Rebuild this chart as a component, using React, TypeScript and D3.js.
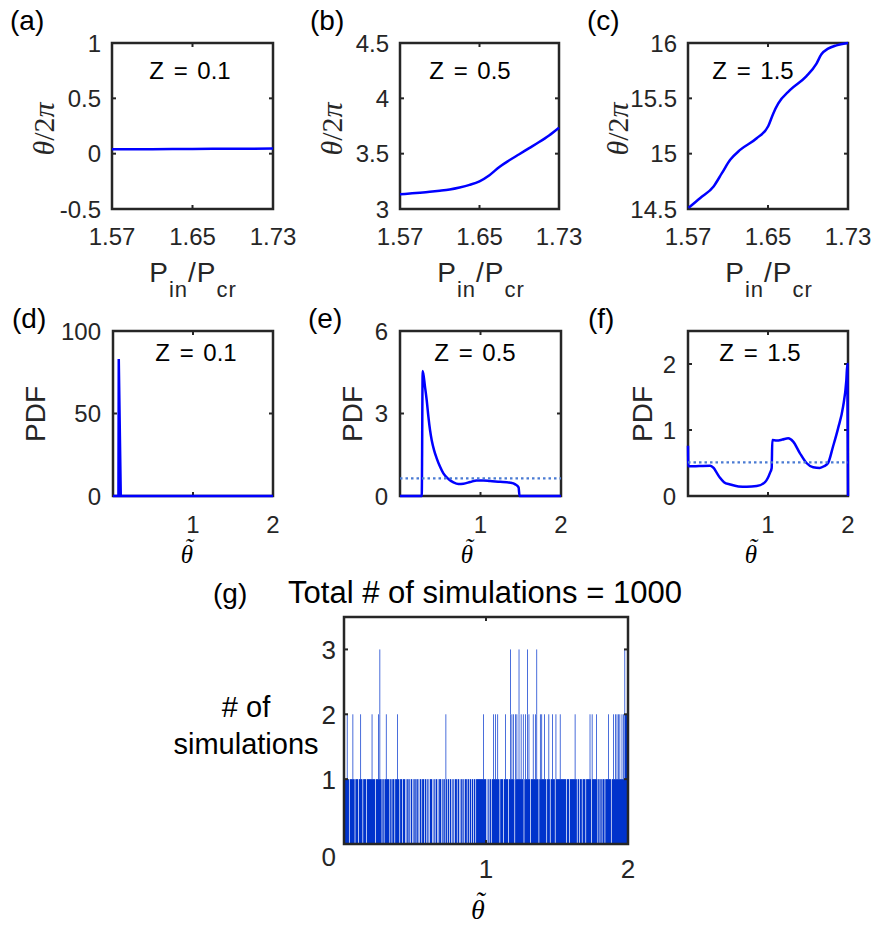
import React from 'react'
import * as d3 from 'd3'

// (a)-(c): theta/2pi versus P_in/P_cr
const pinTicks = [1.57, 1.65, 1.73]
const pinA = [1.57, 1.61, 1.65, 1.69, 1.73]
const thetaA = [0.04, 0.041, 0.043, 0.044, 0.046]
const pinB = [1.57, 1.58, 1.59, 1.6, 1.61, 1.62, 1.63, 1.64, 1.65, 1.66, 1.67, 1.68, 1.69, 1.7, 1.71, 1.72, 1.73]
const thetaB = [3.133, 3.14, 3.147, 3.155, 3.165, 3.177, 3.195, 3.218, 3.25, 3.305, 3.38, 3.44, 3.495, 3.55, 3.605, 3.665, 3.735]
const pinC = [1.5705, 1.5823, 1.5956, 1.6039, 1.6122, 1.6221, 1.6387, 1.6503, 1.6553, 1.6603, 1.6719, 1.6885, 1.6985, 1.7034, 1.7101, 1.7184, 1.7283, 1.73]
const thetaC = [14.51, 14.599, 14.704, 14.824, 14.944, 15.034, 15.139, 15.25, 15.364, 15.454, 15.574, 15.7, 15.814, 15.898, 15.949, 15.979, 15.998, 16]
const ticksA = [-0.5, 0, 0.5, 1]
const ticksB = [3, 3.5, 4, 4.5]
const ticksC = [14.5, 15, 15.5, 16]

// (d)-(f): PDF of theta tilde
const tildeTicks = [0, 1, 2]
const tildeD = [0, 0.068, 0.072, 0.097, 2]
const pdfD = [0, 0, 83, 0, 0]
const tildeE = [0, 0.27, 0.282, 0.311, 0.332, 0.353, 0.373, 0.394, 0.423, 0.456, 0.498, 0.539, 0.602, 0.664, 0.726, 0.788, 0.871, 0.954, 1.037, 1.12, 1.245, 1.369, 1.432, 1.473, 1.485, 2]
const pdfE = [0, 0, 4.55, 3.96, 3.48, 2.88, 2.4, 2.03, 1.67, 1.37, 1.06, 0.82, 0.62, 0.496, 0.435, 0.447, 0.508, 0.568, 0.568, 0.544, 0.52, 0.484, 0.423, 0.314, 0, 0]
const uniformE = 0.64
const tildeF = [0, 0.004, 0.278, 0.32, 0.36, 0.4, 0.45, 0.527, 0.63, 0.734, 0.859, 0.963, 1.025, 1.046, 1.054, 1.108, 1.18, 1.253, 1.315, 1.398, 1.481, 1.564, 1.647, 1.7, 1.751, 1.813, 1.876, 1.938, 1.979, 1.992, 2]
const pdfF = [0.76, 0.45, 0.46, 0.425, 0.35, 0.275, 0.21, 0.175, 0.145, 0.14, 0.15, 0.21, 0.35, 0.425, 0.85, 0.84, 0.855, 0.875, 0.825, 0.65, 0.5, 0.435, 0.425, 0.45, 0.5, 0.75, 1.025, 1.35, 1.75, 2, 0]
const uniformF = 0.51
const ticksD = [0, 50, 100]
const ticksE = [0, 3, 6]
const ticksF = [0, 1, 2]

// (g): counts per bin of width 0.005 over [0, 2]
const histBinWidth = 0.005
const histCountRows = [
  '11112110111121101111011211011110111111121111011121',
  '31101101121111011011101112110111011101011010110101',
  '10110101101110110101011101010110101110101102101101',
  '10101011101101011010111011011011011011111111112111',
  '01010110112112112110111101121110113121210212113112',
  '11201211312101112112131101212111211011210112111021',
  '11112111111110111011111112110110111011110111112102',
  '11111210110110111011112111011211212121211212132222',
]
const histCounts = histCountRows.join('').split('').map(Number)
const histTicksY = [0, 1, 2, 3]

const AX = '#262626'
const BLUE = '#0000ff'
const DOT = '#4a7bd3'
const BAR = '#0033cc'
const SANS = 'Liberation Sans, Arial, Helvetica, sans-serif'
const SERIF = 'Liberation Serif, DejaVu Serif, serif'

type Lin = d3.ScaleLinear<number, number>

function Frame({ x, y, xTicks, yTicks }: { x: Lin; y: Lin; xTicks: number[]; yTicks: number[] }) {
  const [x0, x1] = x.range()
  const [y0, y1] = y.range()
  const len = 4
  return (
    <g stroke={AX} strokeWidth={2}>
      {xTicks.map((t) => (
        <g key={'x' + t}>
          <line x1={x(t)} x2={x(t)} y1={y0} y2={y0 - len} />
          <line x1={x(t)} x2={x(t)} y1={y1} y2={y1 + len} />
        </g>
      ))}
      {yTicks.map((t) => (
        <g key={'y' + t}>
          <line x1={x0} x2={x0 + len} y1={y(t)} y2={y(t)} />
          <line x1={x1} x2={x1 - len} y1={y(t)} y2={y(t)} />
        </g>
      ))}
      <rect x={x0} y={y1} width={x1 - x0} height={y0 - y1} fill="none" strokeWidth={2.5} />
    </g>
  )
}

// theta with a tilde over it, kept as one text element
function TildeTheta({ cx, by, size }: { cx: number; by: number; size: number }) {
  return (
    <text x={cx - size * 0.25} y={by} fontFamily={SERIF} fontStyle="italic" fontSize={size} fill="#000">
      θ
      <tspan dx={-size * 0.417 + 2} dy={-size * 0.28}>˜</tspan>
    </text>
  )
}

const phasePanels = [
  { tag: '(a)', tagX: 10, left: 112, w: 161, xs: pinA, ys: thetaA, dom: [-0.5, 1], ticks: ticksA, z: 'Z = 0.1', zDx: 78, yl: 58 },
  { tag: '(b)', tagX: 310, left: 400, w: 159, xs: pinB, ys: thetaB, dom: [3, 4.5], ticks: ticksB, z: 'Z = 0.5', zDx: 70, yl: 58 },
  { tag: '(c)', tagX: 587, left: 688, w: 160, xs: pinC, ys: thetaC, dom: [14.5, 16], ticks: ticksC, z: 'Z = 1.5', zDx: 65, yl: 60 },
]

function PhasePanel({ p }: { p: (typeof phasePanels)[number] }) {
  const top = 43
  const h = 166
  const x = d3.scaleLinear().domain([1.57, 1.73]).range([p.left, p.left + p.w])
  const y = d3.scaleLinear().domain(p.dom).range([top + h, top])
  const line = d3
    .line<number>()
    .x((d, i) => x(p.xs[i]))
    .y((d) => y(d))
    .curve(d3.curveMonotoneX)
  return (
    <g>
      <Frame x={x} y={y} xTicks={pinTicks} yTicks={p.ticks} />
      <path d={line(p.ys) || ''} fill="none" stroke={BLUE} strokeWidth={2.5} />
      <g fontFamily={SANS} fontSize={24} fill="#262626">
        {p.ticks.map((t) => (
          <text key={t} x={p.left - 11} y={y(t)} dy="0.36em" textAnchor="end">{String(t)}</text>
        ))}
        {pinTicks.map((t) => (
          <text key={t} x={x(t)} y={top + h + 36} textAnchor="middle">{t.toFixed(2)}</text>
        ))}
      </g>
      <text x={p.left + p.zDx} y={79} fontFamily={SANS} fontSize={24} textAnchor="middle" wordSpacing={3}>{p.z}</text>
      <text x={p.tagX} y={30} fontFamily={SANS} fontSize={28}>{p.tag}</text>
      <text transform={`translate(${p.left - p.yl},${129}) rotate(-90)`} fontFamily={SERIF} fontSize={30} textAnchor="middle" fill="#262626">
        <tspan fontStyle="italic">θ</tspan>/2<tspan fontStyle="italic">π</tspan>
      </text>
      <text x={p.left + 81} y={282} fontFamily={SANS} fontSize={28} textAnchor="middle" fill="#262626" letterSpacing={1}>
        P<tspan fontSize={22} dy={15}>in</tspan>
        <tspan dy={-15}>/P</tspan>
        <tspan fontSize={22} dy={15}>cr</tspan>
      </text>
    </g>
  )
}

const pdfPanels = [
  { tag: '(d)', tagX: 12, left: 113, w: 160, xs: tildeD, ys: pdfD, dom: [0, 100], ticks: ticksD, z: 'Z = 0.1', zDx: 83, uni: null as number | null, pdfX: 45, thX: 187, smooth: false },
  { tag: '(e)', tagX: 308, left: 400, w: 161, xs: tildeE, ys: pdfE, dom: [0, 6], ticks: ticksE, z: 'Z = 0.5', zDx: 75, uni: uniformE as number | null, pdfX: 362, thX: 467, smooth: true },
  { tag: '(f)', tagX: 588, left: 688, w: 160, xs: tildeF, ys: pdfF, dom: [0, 2.5], ticks: ticksF, z: 'Z = 1.5', zDx: 72, uni: uniformF as number | null, pdfX: 652, thX: 751, smooth: true },
]

function PdfPanel({ p }: { p: (typeof pdfPanels)[number] }) {
  const top = 331
  const h = 165
  const x = d3.scaleLinear().domain([0, 2]).range([p.left, p.left + p.w])
  const y = d3.scaleLinear().domain(p.dom).range([top + h, top])
  const line = d3
    .line<number>()
    .x((d, i) => x(p.xs[i]))
    .y((d) => y(d))
    .curve(p.smooth ? d3.curveMonotoneX : d3.curveLinear)
  return (
    <g>
      <Frame x={x} y={y} xTicks={tildeTicks} yTicks={p.ticks} />
      <path d={line(p.ys) || ''} fill="none" stroke={BLUE} strokeWidth={2.5} />
      {p.uni !== null && (
        <line x1={x(0)} x2={x(2)} y1={y(p.uni)} y2={y(p.uni)} stroke={DOT} strokeWidth={2.3} strokeDasharray="2.5 3" />
      )}
      <g fontFamily={SANS} fontSize={24} fill="#262626">
        {p.ticks.map((t) => (
          <text key={t} x={p.left - 12} y={y(t)} dy="0.36em" textAnchor="end">{String(t)}</text>
        ))}
        {tildeTicks.slice(1).map((t) => (
          <text key={t} x={x(t)} y={top + h + 37} textAnchor="middle">{String(t)}</text>
        ))}
      </g>
      <text x={p.left + p.zDx} y={361} fontFamily={SANS} fontSize={24} textAnchor="middle" wordSpacing={3}>{p.z}</text>
      <text x={p.tagX} y={328} fontFamily={SANS} fontSize={28}>{p.tag}</text>
      <text transform={`translate(${p.pdfX},${414}) rotate(-90)`} fontFamily={SANS} fontSize={28} textAnchor="middle" fill="#262626">PDF</text>
      <TildeTheta cx={p.thX} by={563} size={25} />
    </g>
  )
}

function runs(level: number) {
  const out: [number, number][] = []
  let start = -1
  histCounts.forEach((c, i) => {
    if (c >= level && start < 0) start = i
    if (c < level && start >= 0) {
      out.push([start, i])
      start = -1
    }
  })
  if (start >= 0) out.push([start, histCounts.length])
  return out
}

function Histogram() {
  const x = d3.scaleLinear().domain([0, 2]).range([344, 628])
  const y = d3.scaleLinear().domain([0, 3.5]).range([844, 617])
  const levels = [1, 2, 3]
  return (
    <g>
      {levels.map((lv) =>
        runs(lv).map(([s, e]) => (
          <rect
            key={lv + '-' + s}
            x={x(s * histBinWidth)}
            width={x(e * histBinWidth) - x(s * histBinWidth)}
            y={y(lv)}
            height={y(lv - 1) - y(lv)}
            fill={BAR}
          />
        ))
      )}
      <Frame x={x} y={y} xTicks={tildeTicks} yTicks={histTicksY} />
      <g fontFamily={SANS} fontSize={26} fill="#262626">
        {histTicksY.map((t) => (
          <text key={t} x={336} y={y(t) + (t === 0 ? 13 : 0)} dy="0.36em" textAnchor="end">{String(t)}</text>
        ))}
        {tildeTicks.slice(1).map((t) => (
          <text key={t} x={x(t)} y={878} textAnchor="middle">{String(t)}</text>
        ))}
      </g>
      <text x={213} y={603} fontFamily={SANS} fontSize={28}>(g)</text>
      <text x={485} y={603} fontFamily={SANS} fontSize={31} textAnchor="middle">Total # of simulations = 1000</text>
      <g fontFamily={SANS} fontSize={29} textAnchor="middle">
        <text x={246} y={717}># of</text>
        <text x={246} y={754}>simulations</text>
      </g>
      <TildeTheta cx={478} by={919} size={28} />
    </g>
  )
}

export default function App() {
  return (
    <svg width={887} height={929} style={{ position: 'absolute', left: 0, top: 0, background: '#fff' }}>
      {phasePanels.map((p) => (
        <PhasePanel key={p.tag} p={p} />
      ))}
      {pdfPanels.map((p) => (
        <PdfPanel key={p.tag} p={p} />
      ))}
      <Histogram />
    </svg>
  )
}
